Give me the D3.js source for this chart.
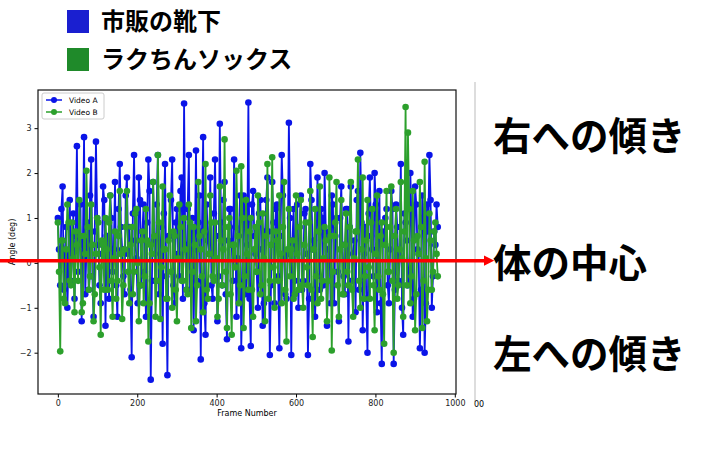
<!DOCTYPE html>
<html><head><meta charset="utf-8">
<script src="https://cdn.jsdelivr.net/npm/d3@7"></script>
<style>body{margin:0;background:#fff}svg{display:block}</style></head>
<body><svg id="c" width="724" height="461"></svg>
<script>
const frameStep = 3;
const seriesNames = ["Video A","Video B"];
const legendLabels = ["市販の靴下","ラクちんソックス"];
const sideLabels = ["右への傾き","体の中心","左への傾き"];
const xTicks = [0,200,400,600,800,1000];
const yTicks = [-2,-1,0,1,2,3];
// even samples (frames 0,6,12,...)
const videoA = [1.0,-0.5,1.7,0.2,-1.0,1.4,0.1,-0.8,2.6,0.5,-1.3,2.8,0.3,-0.6,2.3,-1.2,2.7,0.4,-0.9,1.7,
-1.4,0.6,1.5,-0.2,1.8,-1.2,2.2,0.3,-0.7,1.9,0.8,-2.1,2.4,0.1,1.9,-0.5,1.3,-1.2,2.3,-2.6,
1.8,-0.4,2.4,0.2,-1.8,2.2,-2.5,0.6,2.3,-0.9,1.2,-0.3,1.9,3.55,-0.6,2.4,0.3,-1.5,2.5,0.9,
-2.15,2.8,-1.6,0.5,1.9,-0.8,2.3,-1.3,3.1,-0.5,1.8,-1.7,1.2,0.4,2.3,-1.2,0.6,-1.9,1.5,-0.7,
3.57,-1.85,1.6,0.2,-1.0,1.4,-1.4,0.7,1.9,-2.05,1.8,-0.9,1.3,-1.9,2.4,0.1,-0.8,3.12,-2.05,1.2,
0.4,-1.0,1.5,-0.4,1.2,-2.05,2.2,0.3,-1.2,1.9,-0.6,1.0,2.0,-1.4,0.6,1.5,-0.9,1.0,-1.3,1.7,
-0.3,1.2,-1.75,1.7,0.2,-1.1,1.6,2.45,-1.5,0.8,-2.0,1.9,0.3,2.0,-1.1,1.6,-2.25,0.5,1.2,-0.9,
1.6,-2.25,1.3,-0.4,2.2,-1.6,0.9,-0.5,2.0,-1.2,1.7,0.3,-1.9,1.5,-2.0,1.3,2.4,-1.0,0.7,1.3];
// odd samples (frames 3,9,15,...)
const videoAMid = [0.3,1.2,-0.6,0.8,0.1,-0.4,1.1,0.6,-0.2,1.3,0.4,-0.7,0.9,1.5,-0.3,0.7,1.0,-0.5,0.2,1.4,
0.6,-0.8,1.0,0.3,-0.5,1.2,0.8,-0.3,1.5,0.2,-0.6,1.1,0.5,-0.9,1.4,0.7,-0.2,0.9,1.6,-0.4,
0.5,1.3,-0.7,0.8,1.1,-0.3,0.6,1.4,-0.5,0.9,0.2,1.6,-0.8,0.4,1.2,-0.6,1.0,0.3,-0.4,1.5,
0.7,-0.9,1.3,0.2,-0.5,1.1,0.6,-0.3,0.9,1.4,-0.7,0.5,1.2,-0.4,0.8,0.1,1.5,-0.6,1.0,0.4,
-0.8,1.3,0.6,-0.2,1.1,0.3,-0.9,1.4,0.7,-0.5,0.9,1.2,-0.3,0.6,1.5,-0.7,0.2,1.0,0.5,-0.4,
1.3,0.8,-0.6,1.1,0.2,-0.8,1.4,0.5,-0.3,0.9,1.2,-0.5,0.7,0.3,-0.9,1.3,0.6,-0.2,1.0,0.4,
-0.7,1.2,0.8,-0.4,0.5,1.4,-0.6,0.9,0.2,-0.8,1.1,0.6,-0.3,1.3,0.4,-0.9,0.7,1.0,-0.5,0.3,
1.2,-0.6,0.8,0.1,-1.0,1.1,0.5,-0.4,0.9,-0.8,1.3,0.2,-0.6,1.0,-0.9,0.7,1.4,-0.3,0.4,0.8];
const videoB = [0.9,-1.97,0.5,-0.9,1.3,-0.4,0.9,-1.1,0.4,1.4,-1.1,0.6,2.05,-0.6,1.3,-1.3,0.2,0.9,-1.6,0.4,
1.0,-0.6,1.5,-1.2,0.7,-0.4,1.6,-1.25,0.3,1.6,-0.9,0.8,-0.2,1.2,-1.3,0.5,-0.9,1.2,-1.75,0.4,
1.8,-1.2,2.4,-1.25,1.7,0.3,-0.8,1.5,-1.0,0.6,-1.3,1.3,-0.4,1.0,-0.6,1.3,-1.45,0.8,-1.3,1.8,
0.3,-1.1,2.2,-0.8,1.5,-0.3,0.9,-1.2,1.7,-0.5,2.75,-1.45,1.0,-1.6,0.4,2.05,-0.9,2.15,-1.45,1.4,
-0.6,1.0,-1.2,0.8,1.5,-0.7,1.1,-1.3,2.2,-0.4,2.35,-1.0,0.5,1.5,-0.9,1.8,-1.75,1.2,0.3,-0.8,
1.5,-0.6,1.4,-1.0,0.9,-0.5,1.6,-1.65,1.2,-0.9,1.7,-0.4,0.8,-1.3,1.9,-1.95,0.6,1.8,-1.2,1.4,
-0.7,1.1,-0.5,1.8,-1.2,0.7,2.3,-1.0,1.9,-0.3,1.4,-0.8,1.2,-1.5,1.5,-0.6,0.9,-1.8,1.6,-0.2,
1.7,-2.0,1.2,-0.5,1.8,-1.2,3.47,2.9,-0.9,1.6,-1.5,0.6,1.8,-1.45,2.25,-1.3,1.1,-0.6,0.7,0.2];
const videoBMid = [-0.2,0.5,-0.8,0.3,0.9,-0.5,0.1,0.7,-0.4,0.6,-0.9,0.2,0.8,-0.3,0.4,-0.7,1.0,-0.1,0.5,-0.6,
0.3,0.9,-0.4,0.1,-0.8,0.6,0.2,-0.5,0.8,-0.2,0.4,-0.7,1.1,0.0,-0.5,0.7,-0.3,0.5,-0.9,0.2,
0.6,-0.4,0.9,-0.1,0.3,-0.8,0.5,-0.2,0.7,-0.6,0.1,0.8,-0.4,0.3,-0.7,0.9,-0.2,0.4,-0.5,0.6,
-0.3,0.7,-0.6,0.2,0.9,-0.4,0.1,-0.8,0.5,0.3,-0.2,0.8,-0.7,0.4,-0.1,0.6,-0.5,1.0,-0.3,0.2,
0.7,-0.6,0.3,-0.2,0.9,-0.5,0.1,0.6,-0.8,0.4,-0.1,0.7,-0.4,0.2,0.8,-0.6,0.3,-0.3,0.5,-0.7,
0.2,0.8,-0.5,0.4,-0.1,0.9,-0.6,0.3,-0.3,0.7,-0.8,0.1,0.5,-0.4,0.6,-0.2,0.9,-0.5,0.3,-0.7,
0.4,-0.2,0.8,-0.6,0.1,0.7,-0.4,0.3,-0.8,0.5,-0.1,0.9,-0.5,0.2,-0.3,0.6,-0.7,0.4,-0.2,0.8,
-0.4,0.6,-0.8,0.3,0.1,0.7,-0.5,1.2,-0.3,0.5,-0.7,0.2,0.8,-0.4,0.1,-0.6,0.5,-0.2,0.9,-0.3];
const colors = ["#0a14e8","#2ca02c"];
const legendColors = ["#1a1fd0","#1f8a2a"];

const interleave = (a,b)=>a.flatMap((v,i)=>[v,b[i]]);
const series = [interleave(videoA,videoAMid), interleave(videoB,videoBMid)];

const svg = d3.select("#c");
const L=38,R=456,T=90,B=394;
const x = d3.scaleLinear().domain([-50,1003]).range([L,R]);
const y = d3.scaleLinear().domain([-2.92,3.85]).range([B,T]);
const font="DejaVu Sans";

svg.append("line").attr("x1",475).attr("x2",475).attr("y1",82).attr("y2",402).attr("stroke","#bbb").attr("stroke-width",1);
svg.append("text").attr("x",474).attr("y",407).attr("font-family",font).attr("font-size",8).text("00");

const gx = svg.append("g").attr("transform",`translate(0,${B})`).call(d3.axisBottom(x).tickValues(xTicks).tickSize(3.5).tickFormat(d3.format("d")));
const gy = svg.append("g").attr("transform",`translate(${L},0)`).call(d3.axisLeft(y).tickValues(yTicks).tickSize(3.5).tickFormat(d=>d<0?"−"+Math.abs(d):d));
[gx,gy].forEach(g=>{g.select(".domain").remove();g.selectAll("text").attr("font-family",font).attr("font-size",8).attr("fill","#222");});
svg.append("text").attr("x",(L+R)/2).attr("y",416).attr("text-anchor","middle").attr("font-family",font).attr("font-size",8).text("Frame Number");
svg.append("text").attr("transform","translate(15,242) rotate(-90)").attr("text-anchor","middle").attr("font-family",font).attr("font-size",8).text("Angle (deg)");

const line = d3.line().x((d,i)=>x(i*frameStep)).y(d=>y(d));
series.forEach((s,k)=>{
  const g=svg.append("g");
  g.append("path").attr("d",line(s)).attr("fill","none").attr("stroke",colors[k]).attr("stroke-width",1.8);
  g.selectAll("circle").data(s).join("circle").attr("cx",(d,i)=>x(i*frameStep)).attr("cy",d=>y(d)).attr("r",3.3).attr("fill",colors[k]);
});
svg.append("rect").attr("x",L).attr("y",T).attr("width",R-L).attr("height",B-T).attr("fill","none").attr("stroke","#111").attr("stroke-width",1.2);

svg.append("rect").attr("x",42).attr("y",93).attr("width",62).attr("height",26).attr("fill","#fff").attr("fill-opacity",0.85).attr("stroke","#ccc").attr("rx",2);
seriesNames.forEach((n,k)=>{
  const yy=100+k*12;
  svg.append("line").attr("x1",46).attr("x2",62).attr("y1",yy).attr("y2",yy).attr("stroke",colors[k]).attr("stroke-width",1.5);
  svg.append("circle").attr("cx",54).attr("cy",yy).attr("r",3).attr("fill",colors[k]);
  svg.append("text").attr("x",69).attr("y",yy+3).attr("font-family",font).attr("font-size",7.5).text(n);
});

svg.append("defs").append("marker").attr("id","ah").attr("viewBox","0 0 10 10").attr("refX",2).attr("refY",5)
  .attr("markerWidth",3).attr("markerHeight",3).attr("orient","auto").append("path").attr("d","M0,0L10,5L0,10z").attr("fill","#f00");
svg.append("line").attr("x1",0).attr("x2",486).attr("y1",y(0.05)).attr("y2",y(0.05)).attr("stroke","#f00").attr("stroke-width",3.5).attr("marker-end","url(#ah)");

legendLabels.forEach((t,k)=>{
  const yy=10+k*38;
  svg.append("rect").attr("x",67).attr("y",yy).attr("width",22).attr("height",23).attr("fill",legendColors[k]);
  svg.append("text").attr("x",101).attr("y",yy+20).attr("font-family","Noto Sans CJK JP").attr("font-weight","bold").attr("font-size",24).text(t);
});
[150,277,368].forEach((yy,k)=>{
  svg.append("text").attr("x",493).attr("y",yy).attr("font-family","Noto Sans CJK JP").attr("font-weight","bold").attr("font-size",38.5).text(sideLabels[k]);
});
</script></body></html>
